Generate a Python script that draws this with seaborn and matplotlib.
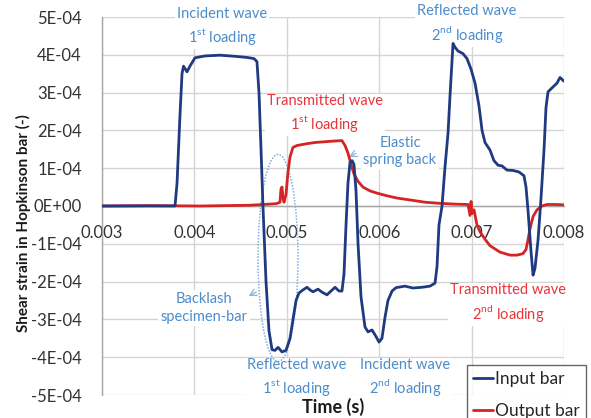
import numpy as np
import pandas as pd
import seaborn as sns
import matplotlib
matplotlib.use("Agg")
import matplotlib.pyplot as plt
from matplotlib.patches import Ellipse
from matplotlib.ticker import MultipleLocator, FuncFormatter

# ---------------- data (time in s, strain in units of 1e-4) ----------------
input_time = [0.003000, 0.003790, 0.003812, 0.003844, 0.003866, 0.003882, 0.003920, 0.003952,
              0.004006, 0.004115, 0.004277, 0.004439, 0.004569, 0.004645, 0.004677, 0.004699,
              0.004721, 0.004742, 0.004775, 0.004807, 0.004840, 0.004872, 0.004905, 0.004948,
              0.004991, 0.005035, 0.005067, 0.005100, 0.005132, 0.005175, 0.005219, 0.005251,
              0.005284, 0.005338, 0.005381, 0.005435, 0.005478, 0.005522, 0.005565, 0.005597,
              0.005619, 0.005641, 0.005662, 0.005684, 0.005706, 0.005727, 0.005749, 0.005771,
              0.005803, 0.005846, 0.005879, 0.005922, 0.005965, 0.005998, 0.006030, 0.006063,
              0.006095, 0.006139, 0.006182, 0.006279, 0.006366, 0.006463, 0.006550, 0.006604,
              0.006626, 0.006647, 0.006680, 0.006712, 0.006745, 0.006766, 0.006799, 0.006820,
              0.006853, 0.006907, 0.006950, 0.006994, 0.007037, 0.007080, 0.007113, 0.007145,
              0.007199, 0.007242, 0.007286, 0.007329, 0.007383, 0.007448, 0.007513, 0.007567,
              0.007589, 0.007610, 0.007643, 0.007665, 0.007686, 0.007719, 0.007751, 0.007784,
              0.007805, 0.007827, 0.007881, 0.007924, 0.007957, 0.008000]
input_strain = [0.0, 0.0, 0.6, 2.4, 3.5, 3.7, 3.55, 3.7,
                3.92, 3.97, 3.99, 3.96, 3.93, 3.9, 3.82, 3.0,
                1.5, 0.0, -2.0, -3.3, -3.8, -3.82, -3.74, -3.86,
                -3.82, -3.5, -3.0, -2.5, -2.3, -2.22, -2.15, -2.22,
                -2.27, -2.2, -2.28, -2.35, -2.25, -2.15, -2.25, -2.25,
                -1.8, -0.5, 0.6, 1.15, 1.2, 1.1, 0.4, -1.0,
                -2.4, -3.2, -3.33, -3.28, -3.45, -3.6, -3.5, -2.94,
                -2.5, -2.25, -2.16, -2.12, -2.17, -2.15, -2.12, -2.04,
                -1.6, -0.5, 0.0, 1.03, 1.93, 2.9, 4.3, 4.2,
                4.1, 4.03, 3.9, 3.62, 3.25, 2.65, 2.0, 1.68,
                1.48, 1.2, 1.08, 1.06, 0.95, 0.94, 0.9, 0.8,
                0.5, -0.1, -1.2, -1.83, -1.65, -0.9, 0.2, 1.5,
                2.6, 3.02, 3.15, 3.25, 3.4, 3.3]

output_time = [0.003000, 0.003519, 0.004061, 0.004602, 0.004883, 0.004926, 0.004937, 0.004948,
               0.004959, 0.004970, 0.004991, 0.005013, 0.005035, 0.005067, 0.005110, 0.005197,
               0.005305, 0.005413, 0.005522, 0.005597, 0.005630, 0.005662, 0.005695, 0.005727,
               0.005771, 0.005825, 0.005900, 0.005976, 0.006084, 0.006193, 0.006333, 0.006496,
               0.006658, 0.006820, 0.006961, 0.006983, 0.006994, 0.007004, 0.007026, 0.007058,
               0.007091, 0.007145, 0.007199, 0.007307, 0.007416, 0.007491, 0.007556, 0.007589,
               0.007610, 0.007632, 0.007665, 0.007708, 0.007762, 0.007816, 0.007903, 0.008000]
output_strain = [0.0, 0.01, 0.0, 0.02, 0.06, 0.1, 0.45, 0.5,
                 0.2, 0.1, 0.3, 0.9, 1.3, 1.55, 1.6, 1.64,
                 1.68, 1.7, 1.72, 1.73, 1.6, 1.4, 1.1, 0.85,
                 0.65, 0.5, 0.4, 0.34, 0.27, 0.21, 0.16, 0.1,
                 0.07, 0.05, 0.04, -0.25, 0.12, -0.2, -0.1, -0.5,
                 -0.68, -0.88, -1.05, -1.22, -1.3, -1.3, -1.26, -1.15,
                 -0.9, -0.6, -0.28, -0.1, 0.0, 0.04, 0.04, 0.03]

series_names = ["Input bar", "Output bar"]
x_ticks = [0.003, 0.004, 0.005, 0.006, 0.007, 0.008]
y_ticks = [-5e-4, -4e-4, -3e-4, -2e-4, -1e-4, 0.0, 1e-4, 2e-4, 3e-4, 4e-4, 5e-4]

df = pd.concat([
    pd.DataFrame({"t": input_time, "strain": np.array(input_strain) * 1e-4, "bar": series_names[0]}),
    pd.DataFrame({"t": output_time, "strain": np.array(output_strain) * 1e-4, "bar": series_names[1]}),
], ignore_index=True)

# ---------------- style ----------------
sns.set_theme(style="white")
FONT = ["Lato", "DejaVu Sans"]
plt.rcParams["font.family"] = FONT

BLUE = "#1f3a80"
RED = "#d42424"
ANN_BLUE = "#4b8dcb"
ANN_RED = "#e8353a"
GRID = "#d4d4d4"
AXC = "#a6a6a6"

fig = plt.figure(figsize=(5.91, 4.18), dpi=100)
ax = fig.add_axes([102 / 591, 1 - 395 / 418, (564 - 102) / 591, (395 - 17) / 418])

sns.lineplot(data=df, x="t", y="strain", hue="bar", hue_order=series_names,
             palette=[BLUE, RED], sort=False, estimator=None, linewidth=2.0,
             ax=ax, zorder=4, legend=True)
lines = ax.get_lines()
if len(lines) >= 2:
    lines[0].set_zorder(5)
    lines[1].set_zorder(4)

ax.set_xlim(x_ticks[0], x_ticks[-1])
ax.set_ylim(y_ticks[0], y_ticks[-1])
ax.set_xticks(x_ticks)
ax.set_yticks(y_ticks)
ax.xaxis.set_minor_locator(MultipleLocator(0.0002))
ax.yaxis.set_minor_locator(MultipleLocator(2e-5))
ax.xaxis.set_major_formatter(FuncFormatter(lambda v, p: f"{v:.3f}"))
ax.yaxis.set_major_formatter(FuncFormatter(lambda v, p: f"{v:.0E}"))

ax.grid(True, which="major", color=GRID, linewidth=1.0)
ax.set_axisbelow(True)
for s in ["top", "right"]:
    ax.spines[s].set_visible(False)
ax.spines["bottom"].set_position(("data", 0))
ax.spines["left"].set_color(AXC)
ax.spines["bottom"].set_color(AXC)
ax.spines["left"].set_linewidth(1.0)
ax.spines["bottom"].set_linewidth(1.0)
ax.spines["left"].set_zorder(2)
ax.spines["bottom"].set_zorder(2)

ax.tick_params(axis="both", which="both", direction="out", color=AXC, width=1.0)
ax.tick_params(axis="both", which="major", length=5)
ax.tick_params(axis="both", which="minor", length=4)
ax.tick_params(axis="x", which="major", pad=8.5, labelsize=12, labelcolor="#333333")
ax.tick_params(axis="y", which="major", pad=9.5, labelsize=12, labelcolor="#333333")
ax.set_xlabel("")
ax.set_ylabel("")

fig.text(333 / 591, 1 - 407 / 418, "Time (s)", ha="center", va="center",
         fontsize=13, fontweight="bold", color="#1a1a1a")
fig.text(23 / 591, 1 - 223 / 418, "Shear strain in Hopkinson bar (-)", ha="center", va="center",
         rotation=90, fontsize=11, fontweight="bold", color="#1a1a1a")

# ---------------- annotations ----------------
def note(x, y, s, color, bg=True):
    kw = dict(ha="center", va="center", fontsize=10.5, color=color, zorder=3,
              linespacing=1.35)
    if bg:
        kw["bbox"] = dict(facecolor="white", edgecolor="none", pad=1.5)
    ax.text(x, y, s, **kw)

ST = r"$^{\mathregular{st}}$"
ND = r"$^{\mathregular{nd}}$"
note(0.00430, 4.74e-4, "Incident wave\n1" + ST + " loading", ANN_BLUE)
note(0.00695, 4.80e-4, "Reflected wave\n2" + ND + " loading", ANN_BLUE)
note(0.005413, 2.43e-4, "Transmitted wave\n1" + ST + " loading", ANN_RED)
note(0.006225, 1.44e-4, "Elastic\nspring back", ANN_BLUE)
note(0.004104, -2.70e-4, "Backlash\nspecimen-bar", ANN_BLUE)
note(0.005110, -4.55e-4, "Reflected wave\n1" + ST + " loading", ANN_BLUE)
note(0.006280, -4.55e-4, "Incident wave\n2" + ND + " loading", ANN_BLUE)
note(0.007394, -2.58e-4, "Transmitted wave\n2" + ND + " loading", ANN_RED)

# dotted ellipse around the backlash
ell = Ellipse((0.004905, -1.376e-4), width=0.000433, height=5.48e-4,
              fill=False, edgecolor="#7fb0de", linestyle=(0, (1, 1.0)), linewidth=1.1, zorder=3.5)
ax.add_patch(ell)

# small arrows
ax.annotate("", xy=(0.005645, 1.26e-4), xytext=(0.005775, 1.42e-4),
            arrowprops=dict(arrowstyle="->", color="#8ab4dc", lw=0.9), zorder=3)
ax.annotate("", xy=(0.004560, -2.42e-4), xytext=(0.004695, -2.24e-4),
            arrowprops=dict(arrowstyle="->", color="#8ab4dc", lw=0.9), zorder=3)

# ---------------- legend ----------------
leg = ax.legend(loc="upper left", bbox_to_anchor=(467 / 591, 1 - 365 / 418),
                bbox_transform=fig.transFigure, frameon=True, fancybox=False,
                fontsize=12.5, handlelength=1.15, handletextpad=0.1,
                labelspacing=0.9, borderpad=0.35, borderaxespad=0)
leg.get_frame().set_edgecolor("#404040")
leg.get_frame().set_linewidth(1.0)
for h in leg.get_lines():
    h.set_linewidth(2.0)

fig.savefig("out.png", dpi=100)
